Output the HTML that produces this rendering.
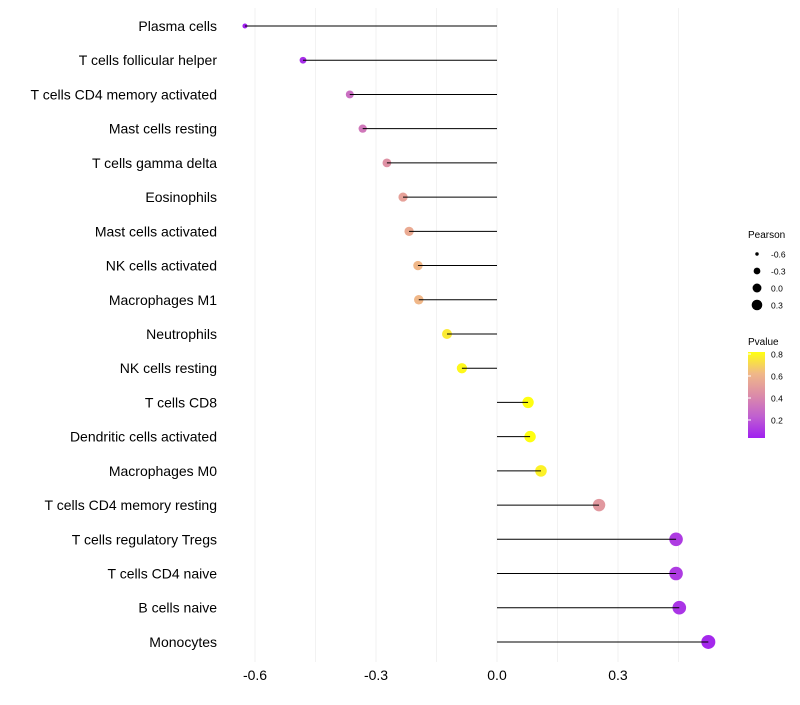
<!DOCTYPE html>
<html><head><meta charset="utf-8"><style>
body{margin:0;background:#fff;font-family:"Liberation Sans",sans-serif}
svg text{font-family:"Liberation Sans",sans-serif}
</style></head><body>
<svg id="chart" width="800" height="700">
<defs><linearGradient id="pg" x1="0" y1="1" x2="0" y2="0">
<stop offset="0" stop-color="#a020f0"/><stop offset="0.25" stop-color="#c060d0"/><stop offset="0.5" stop-color="#dc8ca8"/><stop offset="0.75" stop-color="#f0b888"/><stop offset="1" stop-color="#ffff10"/></linearGradient></defs>
<g id="grid"></g><g id="marks"></g><g id="labels"></g>
<g>
<text x="748" y="238" font-size="10">Pearson</text>
<g id="sizeleg"></g>
<text x="748" y="345" font-size="10">Pvalue</text>
<rect x="748" y="352" width="17" height="86" fill="url(#pg)"/>
<g id="cbticks"></g>
</g>
</svg>
<script>
const categories=["Plasma cells","T cells follicular helper","T cells CD4 memory activated","Mast cells resting","T cells gamma delta","Eosinophils","Mast cells activated","NK cells activated","Macrophages M1","Neutrophils","NK cells resting","T cells CD8","Dendritic cells activated","Macrophages M0","T cells CD4 memory resting","T cells regulatory  Tregs ","T cells CD4 naive","B cells naive","Monocytes"];
const pearson=[-0.625,-0.481,-0.365,-0.333,-0.273,-0.233,-0.218,-0.196,-0.194,-0.124,-0.087,0.077,0.082,0.109,0.253,0.444,0.444,0.452,0.524];
const pvalue=[0.03,0.08,0.3,0.34,0.45,0.52,0.56,0.62,0.62,0.76,0.8,0.82,0.82,0.78,0.48,0.12,0.12,0.1,0.06];
const xTicks=[-0.6,-0.3,0.0,0.3];
const sizeLegend=[-0.6,-0.3,0.0,0.3];
const cbTicks=[0.2,0.4,0.6,0.8];
const NS="http://www.w3.org/2000/svg";
const x=v=>497+v*403.3;
const y=i=>26+i*34.22;
const r=v=>Math.sqrt(Math.max(2,29.5+37.2*v));
const rl=v=>Math.sqrt(Math.max(2,19.7+27.8*v));
const cb=p=>354+(0.8-p)*110;
const stops=[[0,[160,32,240]],[0.25,[192,96,208]],[0.5,[220,140,168]],[0.75,[240,184,136]],[1,[255,255,16]]];
function col(p){let t=Math.min(1,Math.max(0,(p-0.036)/(0.818-0.036)));for(let k=1;k<stops.length;k++){if(t<=stops[k][0]){const a=stops[k-1],b=stops[k];const f=(t-a[0])/(b[0]-a[0]);return `rgb(${a[1].map((c,j)=>Math.round(c+(b[1][j]-c)*f)).join(',')})`;}}return 'rgb(255,255,16)';}
function mk(tag,attrs,parent){const e=document.createElementNS(NS,tag);for(const k in attrs)e.setAttribute(k,attrs[k]);parent.appendChild(e);return e;}
const grid=document.getElementById('grid'),marks=document.getElementById('marks'),labels=document.getElementById('labels');
for(let v=-0.6;v<=0.46;v+=0.15){const g=mk('line',{x1:x(v),x2:x(v),y1:8,y2:662,stroke:'#f2f2f2','stroke-width':1},grid);

}
xTicks.forEach(t=>{const e=mk('text',{x:x(t),y:680,'font-size':14,'text-anchor':'middle',fill:'#000'},labels);e.textContent=t.toFixed(1);

});
categories.forEach((c,i)=>{const t=mk('text',{x:217,y:y(i)+5,'font-size':14,'text-anchor':'end',fill:'#000'},labels);t.textContent=c;


const p=mk('circle',{cx:x(pearson[i]),cy:y(i),r:r(pearson[i]),fill:col(pvalue[i])},marks);


const l=mk('line',{x1:x(0),x2:x(pearson[i]),y1:y(i),y2:y(i),stroke:'#000','stroke-width':1},marks);

});
const sl=document.getElementById('sizeleg');
sizeLegend.forEach((v,k)=>{const cy=254+k*17;const c=mk('circle',{cx:757,cy:cy,r:rl(v),fill:'#000'},sl);


const t=mk('text',{x:771,y:cy+3.5,'font-size':8.5},sl);t.textContent=v.toFixed(1);

});
const cbt=document.getElementById('cbticks');
cbTicks.forEach(p=>{const yy=cb(p);const a=mk('line',{x1:748,x2:751,y1:yy,y2:yy,stroke:'#fff'},cbt);


const t=mk('text',{x:771,y:yy+3.5,'font-size':8.5},cbt);t.textContent=p.toFixed(1);

});
</script>
</body></html>
